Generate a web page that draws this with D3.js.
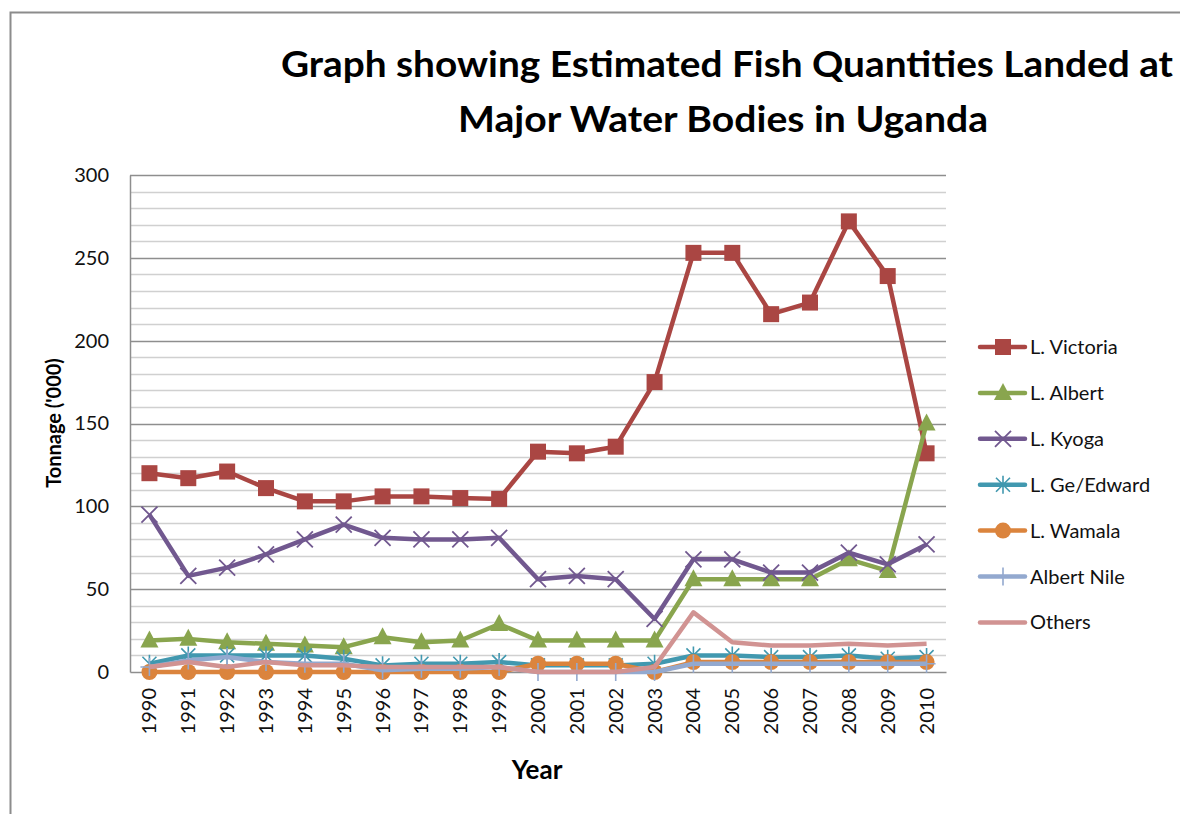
<!DOCTYPE html>
<html>
<head>
<meta charset="utf-8">
<script src="https://cdn.jsdelivr.net/npm/d3@7"></script>
<style>
  body { margin: 0; background: #fff; }
  svg { display: block; font-family: Lato, "Open Sans", sans-serif; }
</style>
</head>
<body>
<svg id="chart" width="1180" height="814"></svg>
<script>
// Données
const years = d3.range(1990, 2011).map(String);
const seriesNames = ["L. Victoria", "L. Albert", "L. Kyoga", "L. Ge/Edward", "L. Wamala", "Albert Nile", "Others"];
const victoria = [120, 117, 121, 111, 103, 103, 106, 106, 105, 104.5, 133, 132, 136, 175, 253, 253, 216, 223, 272, 239, 132];
const albert   = [19, 20, 18, 17, 16, 15, 21, 18, 19, 29, 19, 19, 19, 19, 56, 56, 56, 56, 68, 61, 150];
const kyoga    = [95, 58, 63, 71, 80, 89, 81, 80, 80, 81, 56, 58, 56, 32, 68, 68, 60, 60, 72, 65, 77];
const geEdward = [5, 10, 10, 10, 10, 8, 4, 5, 5, 6, 4, 4, 4, 5, 10, 10, 9, 9, 10, 8, 9];
const wamala   = [0, 0, 0, 0, 0, 0, 0, 0, 0, 0, 5, 5, 5, 0, 6, 6, 6, 6, 6, 6, 6];
const albertNile = [3, 7, 9, 6, 5, 5, 1, 2, 2, 3, 0, 0, 0, 0, 5, 5, 5, 5, 5, 5, 5];
const others   = [3, 6, 3, 6, 4, 4, 3, 3, 3, 3, 0, 0, 0, 3, 36, 18, 16, 16, 17, 16, 17];
const yTicks = [0, 50, 100, 150, 200, 250, 300];

const allValues = [victoria, albert, kyoga, geEdward, wamala, albertNile, others];
const colors = ["#AA4643", "#89A54E", "#71588F", "#4198AF", "#DB843D", "#93A9CF", "#D19392"];
const markers = ["square", "triangle", "x", "asterisk", "circle", "plus", "none"];

const svg = d3.select("#chart");

// Cadre extérieur
svg.append("path")
  .attr("d", "M10.5,814 V12.5 H1180")
  .attr("fill", "none").attr("stroke", "#8c8c8c").attr("stroke-width", 2);

// Titre
const title = svg.append("g").attr("font-weight", "bold").attr("fill", "#000")
  .attr("font-size", 37).attr("text-anchor", "middle");
title.append("text").attr("x", 727).attr("y", 77)
  .attr("textLength", 892).attr("lengthAdjust", "spacingAndGlyphs")
  .text("Graph showing Estimated Fish Quantities Landed at");
title.append("text").attr("x", 723).attr("y", 132)
  .attr("textLength", 530).attr("lengthAdjust", "spacingAndGlyphs")
  .text("Major Water Bodies in Uganda");

// Échelles
const plot = { left: 130, right: 946, top: 175, bottom: 672 };
const x = d3.scaleBand().domain(years).range([plot.left, plot.right]);
const y = d3.scaleLinear().domain([0, 300]).range([plot.bottom, plot.top]);
const cx = d => x(d) + x.bandwidth() / 2;

// Grille mineure puis majeure
const g = svg.append("g");
g.selectAll("line.minor")
  .data(d3.range(10, 300, 10).filter(v => v % 50 !== 0))
  .enter().append("line")
  .attr("x1", plot.left).attr("x2", plot.right)
  .attr("y1", d => Math.round(y(d)) + 0.5).attr("y2", d => Math.round(y(d)) + 0.5)
  .attr("stroke", "#d0d0d0").attr("stroke-width", 1.5);
g.selectAll("line.major")
  .data(yTicks.slice(1))
  .enter().append("line")
  .attr("x1", plot.left).attr("x2", plot.right)
  .attr("y1", d => Math.round(y(d)) + 0.5).attr("y2", d => Math.round(y(d)) + 0.5)
  .attr("stroke", "#8e8e8e").attr("stroke-width", 1.5);

// Axe Y
const yAxis = svg.append("g")
  .attr("transform", `translate(${plot.left},0)`)
  .call(d3.axisLeft(y).tickValues(yTicks).tickSize(0).tickPadding(21));
yAxis.select(".domain").attr("stroke", "#8e8e8e").attr("stroke-width", 1.5);
yAxis.selectAll("text").attr("font-size", 20).attr("fill", "#111")
  .attr("font-family", "Lato, sans-serif");

// Axe X
const xAxis = svg.append("g")
  .attr("transform", `translate(0,${plot.bottom})`)
  .call(d3.axisBottom(x).tickSize(0).tickSizeOuter(0));
xAxis.select(".domain").attr("stroke", "#8e8e8e").attr("stroke-width", 1.5);
xAxis.selectAll("text")
  .attr("font-size", 20).attr("fill", "#111").attr("font-family", "Lato, sans-serif")
  .attr("text-anchor", "end").attr("dy", "0.35em")
  .attr("transform", "translate(0,16) rotate(-90)")
  .attr("x", 0).attr("y", 0);

// Titres d'axes
svg.append("text")
  .attr("transform", "translate(61,423) rotate(-90)")
  .attr("text-anchor", "middle").attr("font-size", 20).attr("font-weight", "bold")
  .text("Tonnage ('000)");
svg.append("text")
  .attr("x", 537).attr("y", 779)
  .attr("text-anchor", "middle").attr("font-size", 26).attr("font-weight", "bold")
  .text("Year");

// Marqueurs
function drawMarker(sel, type, color) {
  if (type === "square") {
    sel.append("rect").attr("x", -8).attr("y", -8).attr("width", 16).attr("height", 16).attr("fill", color);
  } else if (type === "triangle") {
    sel.append("path").attr("d", "M0,-10 L9,7 L-9,7 Z").attr("fill", color);
  } else if (type === "circle") {
    sel.append("circle").attr("r", 8).attr("fill", color);
  } else if (type === "x") {
    sel.append("path").attr("d", "M-8,-8 L8,8 M-8,8 L8,-8")
      .attr("stroke", color).attr("stroke-width", 1.8).attr("fill", "none");
  } else if (type === "asterisk") {
    sel.append("path").attr("d", "M-7,-7 L7,7 M-7,7 L7,-7 M0,-9 L0,9")
      .attr("stroke", color).attr("stroke-width", 1.6).attr("fill", "none");
  } else if (type === "plus") {
    sel.append("path").attr("d", "M0,-9 L0,9 M-9,0 L9,0")
      .attr("stroke", color).attr("stroke-width", 1.6).attr("fill", "none");
  }
}

// Séries
const line = d3.line().x((d, i) => cx(years[i])).y(d => y(d));
allValues.forEach((vals, s) => {
  const sg = svg.append("g");
  sg.append("path").datum(vals)
    .attr("d", line).attr("fill", "none")
    .attr("stroke", colors[s]).attr("stroke-width", 4.5).attr("stroke-linejoin", "round");
  if (markers[s] === "none") return;
  sg.selectAll("g.m").data(vals).enter().append("g")
    .attr("transform", (d, i) => `translate(${cx(years[i])},${y(d)})`)
    .each(function () { drawMarker(d3.select(this), markers[s], colors[s]); });
});

// Légende
const legend = svg.append("g").attr("transform", "translate(980,347)");
seriesNames.forEach((name, i) => {
  const row = legend.append("g").attr("transform", `translate(0,${i * 45.9})`);
  row.append("line").attr("x1", 0).attr("x2", 45).attr("y1", 0).attr("y2", 0)
    .attr("stroke", colors[i]).attr("stroke-width", 4.5).attr("stroke-linecap", "round");
  const m = row.append("g").attr("transform", "translate(23,0)");
  drawMarker(m, markers[i], colors[i]);
  row.append("text").attr("x", 50).attr("y", 0).attr("dy", "0.35em")
    .attr("font-size", 20).attr("fill", "#111").text(name);
});
</script>
</body>
</html>
